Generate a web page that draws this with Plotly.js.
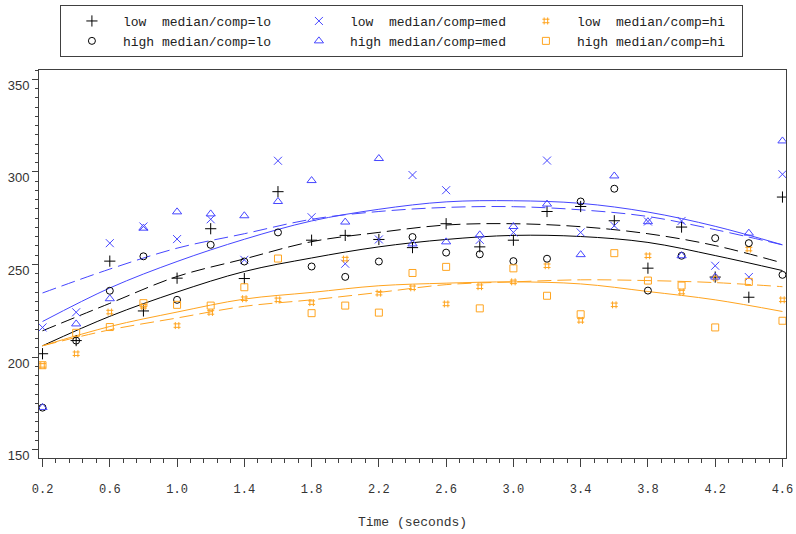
<!DOCTYPE html>
<html><head><meta charset="utf-8">
<script src="https://cdn.plot.ly/plotly-3.0.1.min.js"></script>
<style>body{margin:0;background:#fff}</style>
</head><body>
<div id="chart" style="width:796px;height:534px"></div>
<script>
const time = [0.2,0.4,0.6,0.8,1.0,1.2,1.4,1.6,1.8,2.0,2.2,2.4,2.6,2.8,3.0,3.2,3.4,3.6,3.8,4.0,4.2,4.4,4.6];
const lowLo  = [201.8,208.9,251.8,224.9,242.6,269.3,242.4,289.3,263.1,265.7,263.5,259.1,272.0,259.5,263.1,278.6,281.3,273.6,248.0,270.2,243.2,232.3,286.4];
const highLo = [172.7,208.9,235.8,254.4,230.9,260.6,251.6,267.3,248.9,243.3,251.6,264.8,256.4,255.5,251.8,253.1,284.0,290.9,235.9,254.7,264.2,261.5,244.4];
const lowMed = [216.0,224.2,261.5,270.5,263.7,274.4,252.5,306.0,275.5,250.4,263.5,298.3,290.1,263.3,267.3,306.1,267.3,270.9,273.2,273.5,249.3,243.2,298.7];
const highMed= [172.8,217.9,231.5,269.6,278.4,277.3,276.3,284.0,295.3,272.9,307.2,261.1,262.2,266.0,270.5,282.6,255.3,297.8,273.1,254.7,243.2,266.9,316.7];
const lowHi  = [195.5,201.8,224.3,227.4,217.0,224.1,231.5,230.9,229.4,252.9,234.5,237.4,228.7,238.0,240.6,249.3,219.8,228.2,254.7,235.1,242.7,258.3,230.9];
const highHi = [195.6,213.1,216.2,229.1,228.2,227.8,237.7,253.2,223.7,227.8,224.0,245.4,248.7,226.3,247.9,233.1,223.1,256.1,241.3,238.6,216.0,240.6,219.6];

const fitTime    = [0.2,0.6,1.0,1.4,1.8,2.2,2.6,3.0,3.4,3.8,4.2,4.6];
const fitLowLo   = [214.2,229.0,243.5,253.0,262.3,267.3,271.3,272.0,270.4,266.6,260.2,250.8];
const fitHighLo  = [206.1,222.0,235.1,246.2,253.5,259.5,263.5,265.7,265.1,261.9,254.8,246.7];
const fitLowMed  = [234.6,247.5,258.8,266.6,274.4,278.6,280.8,281.2,279.5,275.9,268.8,260.6];
const fitHighMed = [219.2,237.3,251.6,263.6,273.5,279.8,283.8,284.4,283.0,278.3,270.6,260.6];
const fitLowHi   = [206.1,214.7,221.1,227.4,230.9,234.9,239.1,240.6,241.7,241.3,240.2,238.0];
const fitHighHi  = [206.1,216.5,224.3,231.3,234.9,238.5,239.9,240.6,239.5,235.4,230.9,224.6];

const names = {
  lowLo:  'low\u00a0\u00a0median/comp=lo',
  highLo: 'high median/comp=lo',
  lowMed: 'low\u00a0\u00a0median/comp=med',
  highMed:'high median/comp=med',
  lowHi:  'low\u00a0\u00a0median/comp=hi',
  highHi: 'high median/comp=hi'
};
const BLACK = '#000000', BLUE = '#4646ff', ORANGE = '#ffa41f';

function pts(y, name, sym, color, size) {
  return {x: time, y: y, name: name, type: 'scatter', mode: 'markers',
    marker: {symbol: sym, size: size, color: color, line: {color: color, width: 1}},
    hoverinfo: 'x+y'};
}
function fit(y, color, dash) {
  return {x: fitTime, y: y, type: 'scatter', mode: 'lines', showlegend: false,
    line: {color: color, width: 1, dash: dash, shape: 'spline', smoothing: 1}, hoverinfo: 'skip'};
}
const DASH = '14px,6px';
const data = [
  fit(fitLowLo, BLACK, DASH), fit(fitHighLo, BLACK, 'solid'),
  fit(fitLowMed, BLUE, DASH), fit(fitHighMed, BLUE, 'solid'),
  fit(fitLowHi, ORANGE, DASH), fit(fitHighHi, ORANGE, 'solid'),
  pts(lowLo, names.lowLo, 'cross-thin-open', BLACK, 8),
  pts(lowMed, names.lowMed, 'x-thin-open', BLUE, 8),
  pts(lowHi, names.lowHi, 'hash-open', ORANGE, 7),
  pts(highLo, names.highLo, 'circle-open', BLACK, 7),
  pts(highMed, names.highMed, 'triangle-up-open', BLUE, 8),
  pts(highHi, names.highHi, 'square-open', ORANGE, 7)
];

const mono = 'Liberation Mono, DejaVu Sans Mono, monospace';
const layout = {
  width: 796, height: 534,
  margin: {l: 39, r: 10, t: 70, b: 76, autoexpand: false},
  paper_bgcolor: '#fff', plot_bgcolor: '#fff',
  showlegend: true,
  legend: {
    orientation: 'h', x: 0.028, xanchor: 'left', y: 1.1675, yanchor: 'top',
    bordercolor: '#404040', borderwidth: 1, bgcolor: '#fff',
    font: {family: mono, size: 13, color: '#222'},
    itemwidth: 52, entrywidth: 160, entrywidthmode: 'pixels',
    traceorder: 'normal'
  },
  xaxis: {
    range: [0.179, 4.621], tick0: 0.2, dtick: 0.4, tickformat: '.1f',
    ticks: 'outside', ticklen: 8, tickcolor: '#404040', tickwidth: 1,
    minor: {dtick: 0.08, tick0: 0.2, ticks: 'outside', ticklen: 4, tickcolor: '#404040'},
    showline: true, linecolor: '#404040', linewidth: 1, mirror: true,
    showgrid: false, zeroline: false,
    ticklabelstandoff: 12,
    tickfont: {family: mono, size: 12, color: '#333'},
    title: {text: 'Time (seconds)', font: {family: mono, size: 13, color: '#333'}, standoff: 20}
  },
  yaxis: {
    range: [145.5, 355], tick0: 150, dtick: 50,
    ticks: 'outside', ticklen: 6, tickcolor: '#404040', tickwidth: 1,
    minor: {dtick: 5, ticks: 'outside', ticklen: 3, tickcolor: '#404040'},
    showline: true, linecolor: '#404040', linewidth: 1, mirror: true,
    showgrid: false, zeroline: false,
    ticklabelshift: 6,
    tickfont: {family: 'Liberation Sans, Arial, sans-serif', size: 13, color: '#333'}
  }
};
Plotly.newPlot('chart', data, layout, {displayModeBar: false, staticPlot: true});
</script>
</body></html>
